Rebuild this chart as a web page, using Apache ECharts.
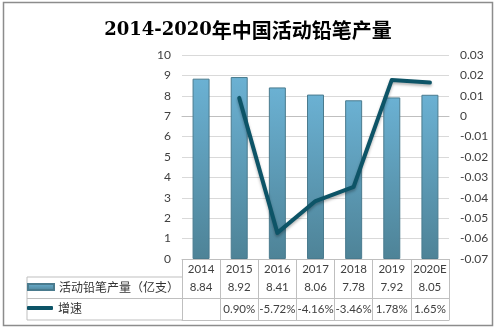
<!DOCTYPE html>
<html>
<head>
<meta charset="utf-8">
<script src="https://cdn.jsdelivr.net/npm/echarts@6/dist/echarts.min.js"></script>
<style>
  html, body { margin: 0; padding: 0; background: #fff; }
  #chart { width: 496px; height: 330px; }
</style>
</head>
<body>
<div id="chart"></div>
<script>
// Pencil output (100 million pieces) and year-on-year growth
const years = ['2014', '2015', '2016', '2017', '2018', '2019', '2020E'];
const output = [8.84, 8.92, 8.41, 8.06, 7.78, 7.92, 8.05];
const growth = [null, 0.0090, -0.0572, -0.0416, -0.0346, 0.0178, 0.0165];
const outputText = ['8.84', '8.92', '8.41', '8.06', '7.78', '7.92', '8.05'];
const growthText = ['', '0.90%', '-5.72%', '-4.16%', '-3.46%', '1.78%', '1.65%'];
const outputName = '活动铅笔产量（亿支）';
const growthName = '增速';

const chart = echarts.init(document.getElementById('chart'));
const lineGray = '#BFBFBF';
const textColor = '#404040';
const labelFont = 'Lato, "Noto Sans CJK SC", sans-serif';

const tableAxis = (offset, labels) => ({
  type: 'category',
  data: years,
  position: 'bottom',
  offset: offset,
  axisLine: { show: true, lineStyle: { color: lineGray, width: 1 } },
  axisTick: { show: false },
  axisLabel: {
    show: !!labels,
    interval: 0,
    margin: 5,
    fontSize: 11.5,
    color: textColor,
    fontFamily: labelFont,
    formatter: (v, i) => labels ? labels[i] : ''
  },
  splitLine: { show: false }
});

chart.setOption({
  animation: false,
  title: {
    text: '{a|2014-2020}{b|年中国活动铅笔产量}',
    left: 'center',
    top: 15,
    textStyle: {
      rich: {
        a: { fontFamily: '"DejaVu Serif", serif', fontWeight: 'bold', fontSize: 18, color: '#000' },
        b: { fontFamily: '"Noto Sans CJK SC", sans-serif', fontWeight: 'bold', fontSize: 20, color: '#000' }
      }
    }
  },
  grid: { left: 182, right: 47, top: 55, bottom: 71 },
  legend: [
    {
      data: [{ name: outputName, icon: 'rect' }],
      left: 27, top: 281, padding: 0,
      itemWidth: 26, itemHeight: 6, itemGap: 4,
      textStyle: { fontSize: 12, color: '#333', fontFamily: '"Noto Sans CJK SC", sans-serif' }
    },
    {
      data: [{ name: growthName, icon: 'roundRect' }],
      left: 27, top: 302, padding: 0,
      itemWidth: 26, itemHeight: 4, itemGap: 4,
      textStyle: { fontSize: 12, color: '#333', fontFamily: '"Noto Sans CJK SC", sans-serif' }
    }
  ],
  xAxis: [
    {
      type: 'category',
      data: years,
      position: 'bottom',
      axisLine: { show: true, lineStyle: { color: lineGray, width: 1 } },
      axisTick: { show: true, length: 61, lineStyle: { color: lineGray } },
      axisLabel: { interval: 0, margin: 5, fontSize: 11.5, color: textColor, fontFamily: labelFont }
    },
    tableAxis(18, outputText),
    tableAxis(39.5, growthText),
    tableAxis(61, null)
  ],
  yAxis: [
    {
      type: 'value', min: 0, max: 10, interval: 1,
      axisLine: { show: false }, axisTick: { show: false },
      axisLabel: { margin: 11, fontSize: 12, color: textColor, fontFamily: labelFont },
      splitLine: { lineStyle: { color: '#D9D9D9' } }
    },
    {
      type: 'value', min: -0.07, max: 0.03, interval: 0.01, position: 'right',
      axisLine: { show: false }, axisTick: { show: false },
      axisLabel: {
        margin: 11, fontSize: 12, color: textColor, fontFamily: labelFont,
        formatter: v => String(+v.toFixed(2))
      },
      splitLine: { show: false }
    }
  ],
  series: [
    {
      name: outputName,
      type: 'bar',
      xAxisIndex: 0, yAxisIndex: 0,
      data: output,
      barWidth: 17,
      itemStyle: {
        color: new echarts.graphic.LinearGradient(0, 0, 0, 1, [
          { offset: 0, color: '#6BB1D3' },
          { offset: 1, color: '#4E8397' }
        ]),
        borderColor: '#4A7B8E',
        borderWidth: 1
      }
    },
    {
      name: growthName,
      type: 'line',
      xAxisIndex: 0, yAxisIndex: 1,
      data: growth,
      symbol: 'none',
      lineStyle: {
        color: '#0D5467', width: 4, cap: 'round', join: 'round',
        shadowColor: 'rgba(0,0,0,0.3)', shadowBlur: 3, shadowOffsetY: 2
      },
      itemStyle: { color: '#0D5467' }
    }
  ],
  graphic: [
    // outer frame
    { type: 'rect', shape: { x: 3.5, y: 2.5, width: 489, height: 323 },
      style: { fill: null, stroke: '#8C8C8C', lineWidth: 1.5 }, silent: true, z: 100 },
    // table legend column
    { type: 'polyline', shape: { points: [[182, 277], [27, 277], [27, 320], [182, 320]] },
      style: { fill: null, stroke: lineGray, lineWidth: 1 }, silent: true },
    { type: 'line', shape: { x1: 27, y1: 298.5, x2: 182, y2: 298.5 },
      style: { stroke: lineGray, lineWidth: 1 }, silent: true }
  ]
});
</script>
</body>
</html>
